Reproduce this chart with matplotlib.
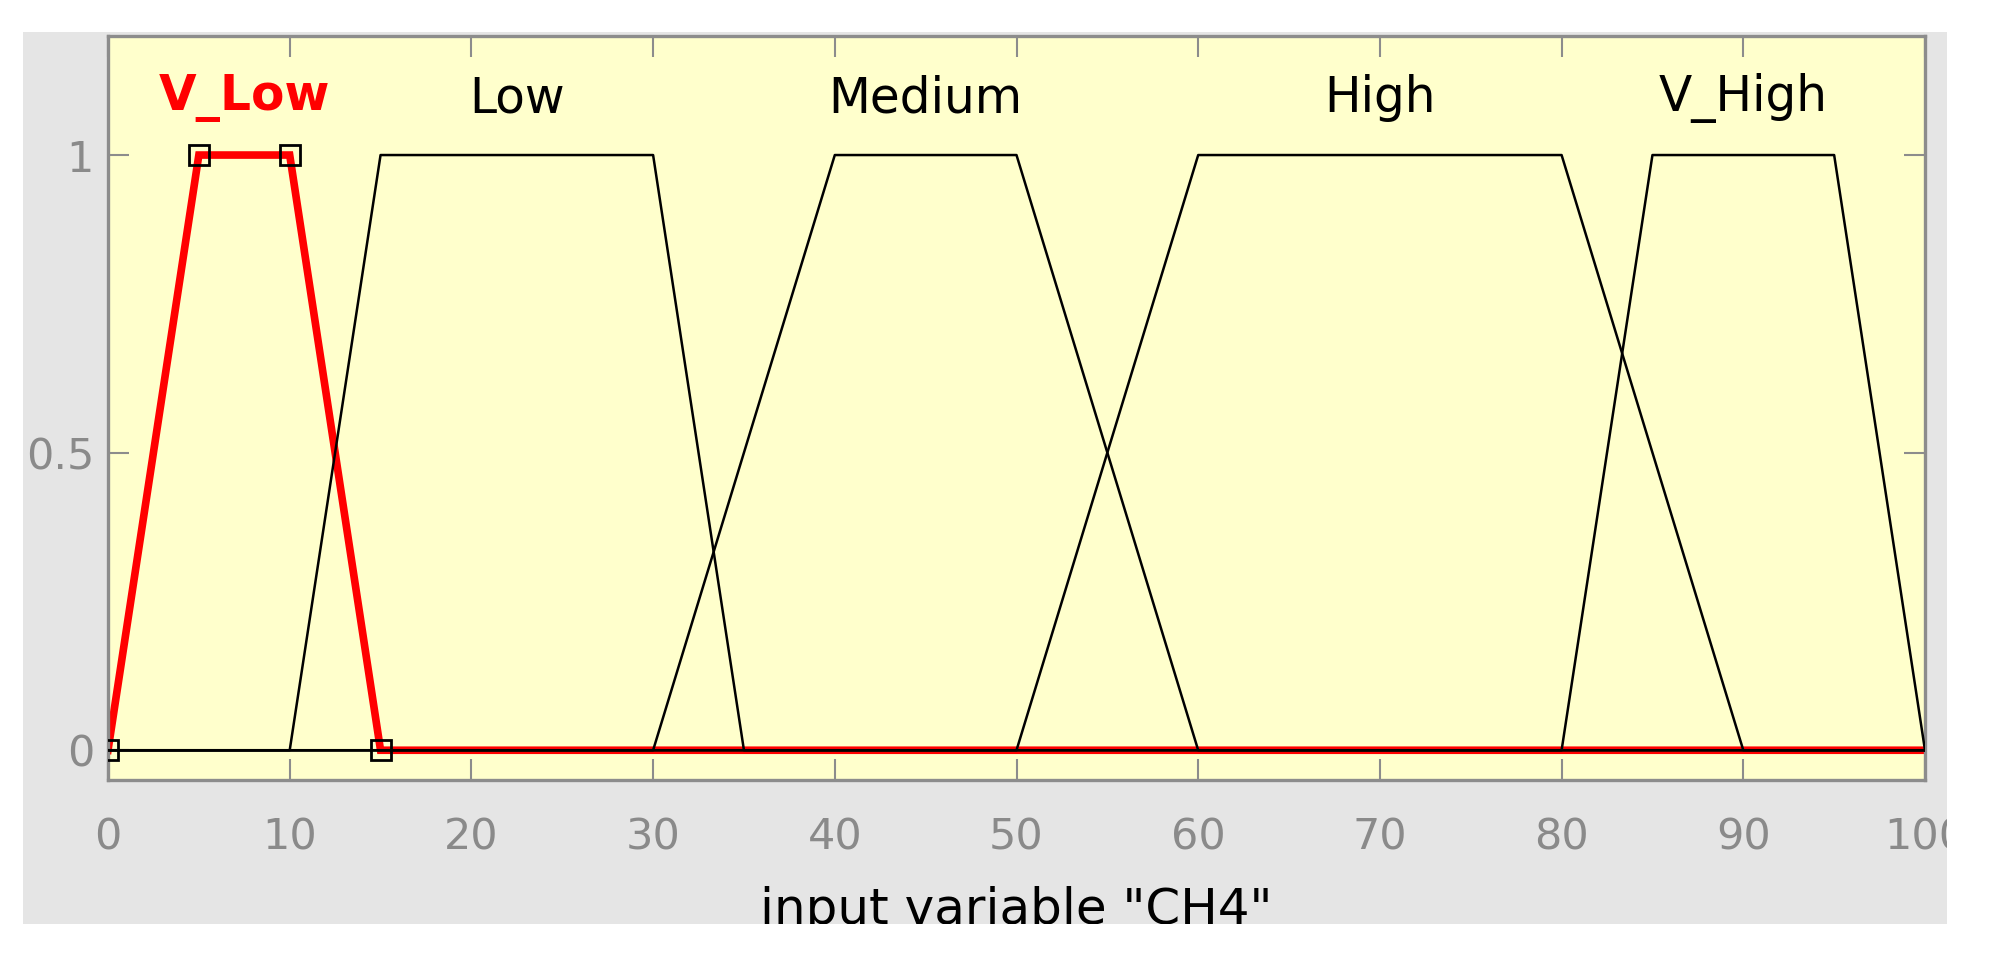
import matplotlib
matplotlib.use("Agg")
import matplotlib.pyplot as plt
from matplotlib.patches import Rectangle

# membership functions of input "CH4" (trapmf params a, b, c, d)
mf_names = ["V_Low", "Low", "Medium", "High", "V_High"]
mf_params = [
    [0, 5, 10, 15],
    [10, 15, 30, 35],
    [30, 40, 50, 60],
    [50, 60, 80, 90],
    [80, 85, 95, 100],
]
selected = "V_Low"
x_range = [0, 100]
x_ticks = [0, 10, 20, 30, 40, 50, 60, 70, 80, 90, 100]
y_ticks = [0, 0.5, 1]
y_tick_labels = ["0", "0.5", "1"]
xlabel = 'input variable "CH4"'

W, H = 1998, 964
fig = plt.figure(figsize=(W / 100, H / 100), dpi=100, facecolor="white")
# grey figure panel, then white strips cutting what sticks out of it
fig.patches.append(Rectangle((23 / W, 1 - 924 / H), (1947 - 23) / W, (924 - 32) / H,
                             transform=fig.transFigure, facecolor="#e5e5e5",
                             edgecolor="none", zorder=-10))
fig.patches.append(Rectangle((0, 0), 1, 1 - 924 / H, transform=fig.transFigure,
                             facecolor="white", edgecolor="none", zorder=10))
fig.patches.append(Rectangle((1947 / W, 0), 1 - 1947 / W, 1, transform=fig.transFigure,
                             facecolor="white", edgecolor="none", zorder=10))

ax = fig.add_axes([108 / W, 1 - 780 / H, (1925 - 108) / W, (780 - 36) / H])
ax.set_facecolor("#ffffcc")


def trap(p):
    a, b, c, d = p
    xs = [x_range[0], a, b, c, d, x_range[1]]
    ys = [0, 0, 1, 1, 0, 0]
    return xs, ys


for name, p in zip(mf_names, mf_params):
    xs, ys = trap(p)
    mid = (p[1] + p[2]) / 2
    if name == selected:
        ax.plot(xs, ys, color="red", lw=5.5, zorder=2, solid_joinstyle="miter")
        ax.plot(p, [0, 1, 1, 0], ls="none", marker="s", ms=14, mfc="none",
                mec="black", mew=2, zorder=4)
        ax.text(mid, 1.095, name, color="red", fontsize=35, fontweight="bold",
                ha="center", va="center")
    else:
        ax.plot(xs, ys, color="black", lw=1.8, zorder=3)
        ax.text(mid, 1.095, name, color="black", fontsize=35,
                ha="center", va="center")

ax.set_xlim(*x_range)
ax.set_ylim(-0.05, 1.2)
ax.set_xticks(x_ticks)
ax.set_yticks(y_ticks)
ax.set_yticklabels(y_tick_labels)
ax.tick_params(axis="both", direction="in", length=15, width=1.5, color="#8c8c8c",
               labelcolor="#8a8a8a", labelsize=31, top=True, right=True)
ax.tick_params(axis="x", pad=26)
ax.tick_params(axis="y", pad=10)
for s in ax.spines.values():
    s.set_color("#8c8c8c")
    s.set_linewidth(2.4)
ax.set_xlabel(xlabel, fontsize=36, color="black", labelpad=20)

fig.savefig("out.png", dpi=100, facecolor=fig.get_facecolor())
